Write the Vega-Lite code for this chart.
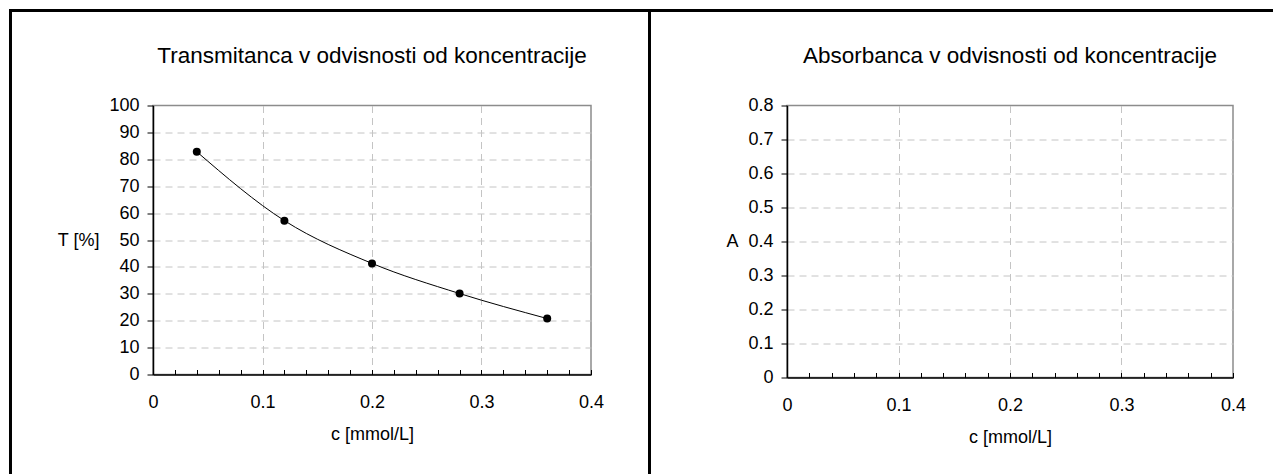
{
  "$schema": "https://vega.github.io/schema/vega-lite/v6.json",
  "background": "white",
  "padding": {"left": 7, "top": 7.5, "right": 0, "bottom": 0},
  "bounds": "flush",
  "spacing": 196,
  "datasets": {
    "trans": [
      {"c": 0.04, "T": 82.8},
      {"c": 0.12, "T": 57.2},
      {"c": 0.2, "T": 41.3},
      {"c": 0.28, "T": 30.1},
      {"c": 0.36, "T": 20.8}
    ]
  },
  "hconcat": [
    {
      "width": 438,
      "height": 269,
      "title": "Transmitanca v odvisnosti od koncentracije",
      "layer": [
        {
          "data": {"name": "trans"},
          "mark": {"type": "line", "interpolate": "monotone", "color": "black", "strokeWidth": 1},
          "encoding": {
            "x": {
              "field": "c", "type": "quantitative",
              "scale": {"domain": [0, 0.4], "nice": false, "zero": false},
              "axis": {
                "title": "c [mmol/L]",
                "values": [0,0.02,0.04,0.06,0.08,0.1,0.12,0.14,0.16,0.18,0.2,0.22,0.24,0.26,0.28,0.3,0.32,0.34,0.36,0.38,0.4],
                "tickCount": 100,
                "tickSize": -5,
                "labelPadding": 24,
                "labelOverlap": false,
                "grid": true,
                "labelExpr": "abs(datum.value*10 - round(datum.value*10)) < 0.001 ? format(datum.value, '.1~f') : ''",
                "gridOpacity": {"condition": {"test": "abs(datum.value*10 - round(datum.value*10)) < 0.001 && datum.value > 0.001 && datum.value < 0.399", "value": 1}, "value": 0},
                "titlePadding": 14
              }
            },
            "y": {
              "field": "T", "type": "quantitative",
              "scale": {"domain": [0, 100], "nice": false},
              "axis": {
                "title": "T [%]",
                "values": [0,10,20,30,40,50,60,70,80,90,100],
                "tickCount": 100,
                "format": "d",
                "tickSize": 6,
                "labelPadding": 8,
                "labelOverlap": false,
                "grid": true,
                "titleAngle": 0,
                "titleAlign": "right",
                "titleBaseline": "middle",
                "titlePadding": 10,
                "gridOpacity": {"condition": {"test": "datum.value > 0 && datum.value < 100", "value": 1}, "value": 0}
              }
            }
          }
        },
        {
          "data": {"name": "trans"},
          "mark": {"type": "circle", "size": 64, "color": "black", "opacity": 1},
          "encoding": {
            "x": {"field": "c", "type": "quantitative"},
            "y": {"field": "T", "type": "quantitative"}
          }
        },
        {
          "data": {"values": [{}]},
          "mark": {"type": "rule", "color": "black", "strokeWidth": 3},
          "encoding": {
            "x": {"datum": -0.130137, "type": "quantitative"},
            "y": {"datum": 135.316, "type": "quantitative"},
            "y2": {"datum": -36.989}
          }
        },
        {
          "data": {"values": [{}]},
          "mark": {"type": "rule", "color": "black", "strokeWidth": 3},
          "encoding": {
            "x": {"datum": 0.453425, "type": "quantitative"},
            "y": {"datum": 135.316, "type": "quantitative"},
            "y2": {"datum": -36.989}
          }
        },
        {
          "data": {"values": [{}]},
          "mark": {"type": "rule", "color": "black", "strokeWidth": 3, "strokeCap": "square"},
          "encoding": {
            "x": {"datum": -0.130137, "type": "quantitative"},
            "x2": {"datum": 0.453425},
            "y": {"datum": 135.316, "type": "quantitative"}
          }
        }
      ]
    },
    {
      "width": 446,
      "height": 272,
      "title": "Absorbanca v odvisnosti od koncentracije",
      "layer": [
        {
          "data": {"values": [{}]},
          "mark": {"type": "rule", "color": "black", "strokeWidth": 3, "strokeCap": "square"},
          "encoding": {
            "x": {
              "datum": -0.123318, "type": "quantitative",
              "scale": {"domain": [0, 0.4], "nice": false, "zero": false},
              "axis": {
                "title": "c [mmol/L]",
                "values": [0,0.02,0.04,0.06,0.08,0.1,0.12,0.14,0.16,0.18,0.2,0.22,0.24,0.26,0.28,0.3,0.32,0.34,0.36,0.38,0.4],
                "tickCount": 100,
                "tickSize": -5,
                "labelPadding": 24,
                "labelOverlap": false,
                "grid": true,
                "labelExpr": "abs(datum.value*10 - round(datum.value*10)) < 0.001 ? format(datum.value, '.1~f') : ''",
                "gridOpacity": {"condition": {"test": "abs(datum.value*10 - round(datum.value*10)) < 0.001 && datum.value > 0.001 && datum.value < 0.399", "value": 1}, "value": 0},
                "titlePadding": 14
              }
            },
            "x2": {"datum": 0.436323},
            "y": {
              "datum": 1.079412, "type": "quantitative",
              "scale": {"domain": [0, 0.8], "nice": false},
              "axis": {
                "title": "A",
                "values": [0,0.1,0.2,0.3,0.4,0.5,0.6,0.7,0.8],
                "tickCount": 100,
                "format": ".1~f",
                "tickSize": 6,
                "labelPadding": 8,
                "labelOverlap": false,
                "grid": true,
                "titleAngle": 0,
                "titleAlign": "right",
                "titleBaseline": "middle",
                "titlePadding": 10,
                "gridOpacity": {"condition": {"test": "datum.value > 0.001 && datum.value < 0.799", "value": 1}, "value": 0}
              }
            }
          }
        }
      ]
    }
  ],
  "config": {
    "view": {"stroke": "#8c8c8c", "strokeWidth": 1.5},
    "axis": {
      "labelFont": "Liberation Sans",
      "labelFontSize": 18,
      "labelColor": "black",
      "labelFlush": false,
      "labelOverlap": false,
      "labelBound": false,
      "titleFont": "Liberation Sans",
      "titleFontSize": 18,
      "titleFontWeight": "normal",
      "titleColor": "black",
      "domainColor": "black",
      "domainWidth": 1.5,
      "tickColor": "black",
      "tickWidth": 1,
      "gridColor": "#c4c4c4",
      "gridDash": [7, 5],
      "gridWidth": 1
    },
    "title": {
      "font": "Liberation Sans",
      "fontSize": 22.5,
      "fontWeight": "normal",
      "color": "black",
      "frame": "group",
      "offset": -59
    }
  }
}
